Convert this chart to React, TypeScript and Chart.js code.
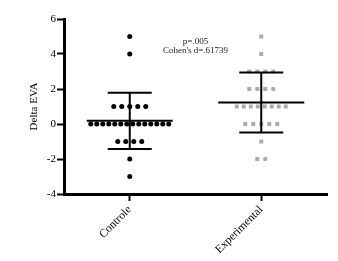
import React, { useEffect, useRef } from "react";
import { Chart, registerables } from "chart.js";

Chart.register(...registerables);

const categories = ["Controle", "Experimental"];
const controleValues = [
  5, 4,
  1, 1, 1, 1, 1,
  0, 0, 0, 0, 0, 0, 0, 0, 0, 0, 0, 0, 0, 0,
  -1, -1, -1, -1,
  -2, -3,
];
const experimentalValues = [
  5, 4,
  3, 3, 3, 3,
  2, 2, 2, 2,
  1, 1, 1, 1, 1, 1, 1, 1,
  0, 0, 0, 0, 0,
  -1,
  -2, -2,
];
const groupMeans = [0.18, 1.23];
const groupSDs = [1.61, 1.72];
const yTicks = [-4, -2, 0, 2, 4, 6];
const noteLines = ["p=.005", "Cohen's d=.61739"];

const FONT = "'Liberation Serif', 'Times New Roman', serif";

function spacingFor(n: number) {
  if (n <= 5) return 8;
  if (n <= 8) return 7;
  return 6;
}

function swarm(values: number[], idx: number, unitPx: number) {
  const groups = new Map<number, number>();
  values.forEach((v) => groups.set(v, (groups.get(v) || 0) + 1));
  const seen = new Map<number, number>();
  return values.map((v) => {
    const m = groups.get(v) || 1;
    const k = seen.get(v) || 0;
    seen.set(v, k + 1);
    const offPx = (k - (m - 1) / 2) * spacingFor(m);
    return { x: idx + offPx / unitPx, y: v };
  });
}

const errorBarPlugin = {
  id: "errorBars",
  afterDatasetsDraw(chart: any) {
    const ctx = chart.ctx;
    const xs = chart.scales.x;
    const ys = chart.scales.y;
    ctx.save();
    ctx.strokeStyle = "#000";
    ctx.lineWidth = 2;
    categories.forEach((_, i) => {
      const cx = xs.getPixelForValue(i);
      const yM = ys.getPixelForValue(groupMeans[i]);
      const yT = ys.getPixelForValue(groupMeans[i] + groupSDs[i]);
      const yB = ys.getPixelForValue(groupMeans[i] - groupSDs[i]);
      ctx.beginPath();
      ctx.moveTo(cx - 43, yM);
      ctx.lineTo(cx + 43, yM);
      ctx.moveTo(cx - 22, yT);
      ctx.lineTo(cx + 22, yT);
      ctx.moveTo(cx - 22, yB);
      ctx.lineTo(cx + 22, yB);
      ctx.moveTo(cx, yT);
      ctx.lineTo(cx, yB);
      ctx.stroke();
    });
    ctx.restore();
  },
};

const notePlugin = {
  id: "note",
  afterDraw(chart: any) {
    const ctx = chart.ctx;
    const xs = chart.scales.x;
    const ys = chart.scales.y;
    const x = xs.getPixelForValue(0.5);
    const y0 = ys.getPixelForValue(4.7);
    ctx.save();
    ctx.fillStyle = "#222";
    ctx.font = `9px ${FONT}`;
    ctx.textAlign = "center";
    ctx.textBaseline = "middle";
    noteLines.forEach((t, i) => ctx.fillText(t, x, y0 + i * 9));
    ctx.restore();
  },
};

export default function App() {
  const ref = useRef<HTMLCanvasElement>(null);
  useEffect(() => {
    if (!ref.current) return;
    const guessUnit = 131.5;
    const chart = new Chart(ref.current, {
      type: "scatter",
      data: {
        datasets: [
          {
            label: categories[0],
            data: swarm(controleValues, 0, guessUnit),
            backgroundColor: "#000",
            borderColor: "#000",
            pointRadius: 2.5,
            borderWidth: 0,
          },
          {
            label: categories[1],
            data: swarm(experimentalValues, 1, guessUnit),
            backgroundColor: "#ababab",
            borderColor: "#ababab",
            pointStyle: "rect",
            pointRadius: 2.8,
            borderWidth: 0,
          },
        ],
      },
      options: {
        responsive: false,
        animation: false,
        layout: { padding: { top: 19, right: 11, left: 0, bottom: 0 } },
        plugins: { legend: { display: false }, tooltip: { enabled: false } },
        scales: {
          x: {
            type: "linear",
            min: -0.5,
            max: 1.5,
            afterBuildTicks: (s: any) => {
              s.ticks = categories.map((_, i) => ({ value: i }));
            },
            afterFit: (s: any) => {
              s.height = 67;
            },
            ticks: {
              callback: (v: any) => categories[Math.round(Number(v))] ?? "",
              font: { family: FONT, size: 11.5 },
              color: "#000",
              maxRotation: 45,
              minRotation: 45,
              padding: 2,
            },
            grid: {
              drawOnChartArea: false,
              drawTicks: true,
              tickLength: 7,
              tickColor: "#000",
              tickWidth: 2,
            },
            border: { display: true, color: "#000", width: 3 },
          },
          y: {
            min: -4,
            max: 6,
            afterBuildTicks: (s: any) => {
              s.ticks = yTicks.map((v) => ({ value: v }));
            },
            afterFit: (s: any) => {
              s.width = 64;
            },
            ticks: {
              font: { family: FONT, size: 11 },
              color: "#000",
              padding: 1,
            },
            grid: {
              drawOnChartArea: false,
              drawTicks: true,
              tickLength: 7,
              tickColor: "#000",
              tickWidth: 2,
            },
            border: { display: true, color: "#000", width: 3 },
            title: {
              display: true,
              text: "Delta EVA",
              font: { family: FONT, size: 11 },
              color: "#000",
              padding: { top: 28, bottom: 0 },
            },
          },
        },
      },
      plugins: [errorBarPlugin, notePlugin],
    } as any);
    const xs: any = chart.scales.x;
    const unit = xs.getPixelForValue(1) - xs.getPixelForValue(0);
    chart.data.datasets[0].data = swarm(controleValues, 0, unit) as any;
    chart.data.datasets[1].data = swarm(experimentalValues, 1, unit) as any;
    chart.update();
    return () => chart.destroy();
  }, []);
  return (
    <div style={{ position: "absolute", left: 0, top: 0, width: 338, height: 261, background: "#fff" }}>
      <canvas ref={ref} width={338} height={261} />
    </div>
  );
}
